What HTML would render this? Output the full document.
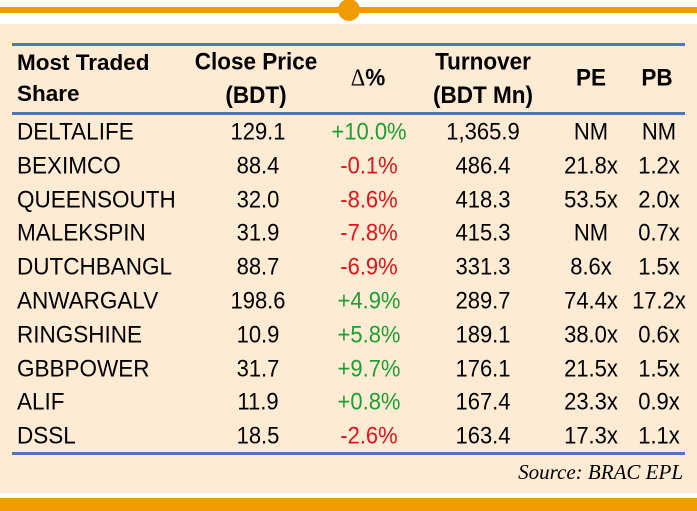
<!DOCTYPE html><html><head><style>
body{margin:0;width:697px;height:511px;position:relative;background:#fff;overflow:hidden;font-family:"Liberation Sans",Arial,sans-serif}
.bg{position:absolute;left:0;top:24px;width:697px;height:469px;background:#fdebd3}
.ol{position:absolute;left:0;top:7px;width:697px;height:6px;background:#f09c00}
.dot{position:absolute;left:338px;top:-1px;width:22px;height:22px;border-radius:50%;background:#f09c00}
.bb{position:absolute;left:0;top:498px;width:697px;height:13px;background:#f09c00}
.bl{position:absolute;left:12px;width:673px;height:3px;background:#4f74c0}
.c{position:absolute;font-size:22px;color:#000;white-space:nowrap;transform:translateX(-50%) scaleY(1.08)}
.h{font-weight:bold;font-size:22.5px;text-align:center;line-height:31px}
.n{position:absolute;left:17px;font-size:22.5px;transform:scaleY(1.06);transform-origin:left}
.g{color:#1aa033}.r{color:#e3141b}
</style></head><body>
<div class="bg"></div><div class="ol"></div><div class="dot"></div><div class="bb"></div>
<div class="bl" style="top:43px"></div><div class="bl" style="top:112px"></div><div class="bl" style="top:452px"></div>
<div class="h" style="position:absolute;left:17px;top:47px;text-align:left">Most Traded<br>Share</div>
<div class="c h" style="left:256px;top:47px">Close Price<br>(BDT)</div>
<div class="c h" style="left:368px;top:62px"><span style="font-family:'Liberation Serif',serif;font-weight:normal">Δ</span>%</div>
<div class="c h" style="left:483px;top:47px">Turnover<br>(BDT Mn)</div>
<div class="c h" style="left:591px;top:62px">PE</div>
<div class="c h" style="left:657px;top:62px">PB</div>
<div id="rows"></div>
<div style="position:absolute;right:14px;top:460px;font-family:'Liberation Serif',serif;font-style:italic;font-size:21px">Source: BRAC EPL</div>
<script>
var d=[["DELTALIFE","129.1","+10.0%","1,365.9","NM","NM"],["BEXIMCO","88.4","-0.1%","486.4","21.8x","1.2x"],["QUEENSOUTH","32.0","-8.6%","418.3","53.5x","2.0x"],["MALEKSPIN","31.9","-7.8%","415.3","NM","0.7x"],["DUTCHBANGL","88.7","-6.9%","331.3","8.6x","1.5x"],["ANWARGALV","198.6","+4.9%","289.7","74.4x","17.2x"],["RINGSHINE","10.9","+5.8%","189.1","38.0x","0.6x"],["GBBPOWER","31.7","+9.7%","176.1","21.5x","1.5x"],["ALIF","11.9","+0.8%","167.4","23.3x","0.9x"],["DSSL","18.5","-2.6%","163.4","17.3x","1.1x"]];
var xs=[258,369,483,591,659],h="";
d.forEach(function(r,i){var t=119+i*33.8;h+='<div class="n" style="top:'+t+'px">'+r[0]+'</div>';
for(var j=1;j<6;j++){var cl=j==2?(r[2][0]=="+"?"g":"r"):"";h+='<div class="c '+cl+'" style="left:'+xs[j-1]+'px;top:'+t+'px">'+r[j]+'</div>';}});
document.getElementById("rows").innerHTML=h;
</script>
</body></html>
